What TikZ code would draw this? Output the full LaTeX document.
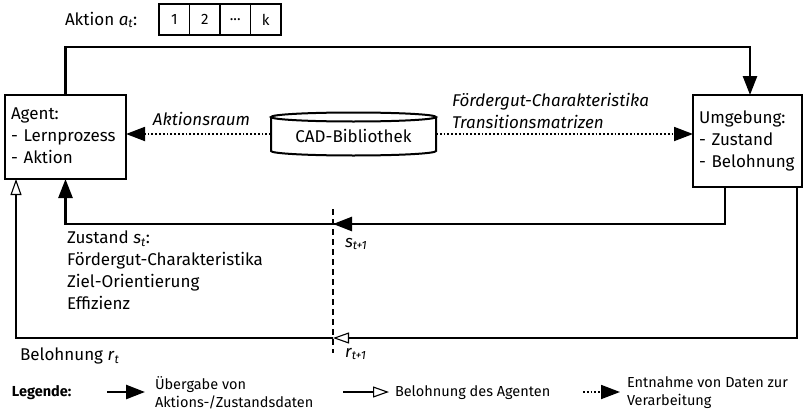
\documentclass[tikz,border=0pt]{standalone}
\usepackage{fontspec}
\setmainfont{Fira Sans}
\usetikzlibrary{arrows.meta,calc}
% italic symbol with italic subscript, set in the text font
\newcommand{\symb}[2]{\textit{#1}\textsubscript{\textit{#2}}}
\begin{document}
\begin{tikzpicture}[x=1pt,y=-1pt,
  every node/.style={inner sep=0pt,outer sep=0pt,font=\fontsize{17}{22}\selectfont},
  box/.style={draw,line width=2pt,rectangle,align=left,anchor=north west,inner xsep=6pt,text width=#1},
  tip/.style={-{Triangle[length=19pt,width=14pt]}},
  flow/.style={line width=2.6pt,tip},
  reward/.style={line width=1.1pt,-{Triangle[open,length=16pt,width=11pt,line width=1.1pt]}},
  source/.style={line width=1.8pt,dash pattern=on 1.8pt off 2pt,tip},
  cut/.style={line width=2pt,dash pattern=on 6pt off 4pt},
  cell/.style={draw,line width=1.6pt,minimum width=30.5pt,minimum height=31pt,anchor=north west,font=\fontsize{15}{17}\selectfont},
  lab/.style={anchor=west,align=left},
  legend/.style={anchor=west,align=left,font=\fontsize{14.5}{18}\selectfont}]
\useasboundingbox (0,0) rectangle (803,415);

% main blocks
\node[box=109pt,minimum width=121pt,minimum height=84pt] (agent) at (5,95)
  {\strut Agent:\\\strut - Lernprozess\\\strut - Aktion};
\node[box=97pt,minimum width=109pt,minimum height=92pt] (umg) at (693,95)
  {\strut Umgebung:\\\strut - Zustand\\\strut - Belohnung};

% CAD library drawn as a cylinder
\draw[line width=2pt,fill=white] (271,117) -- (271,151)
  arc[start angle=180,end angle=0,x radius=82.5,y radius=4.5] -- (436,117);
\draw[line width=2pt] (353.5,117) ellipse[x radius=82.5,y radius=4.5];
\node[minimum width=165pt,minimum height=42pt] (cad) at (353.5,136) {CAD-Bibliothek};

% action vector
\node[anchor=west] (actlabel) at (65,20) {Aktion \symb{a}{t}:};
\node[cell] (c1) at (159,4) {1};
\node[cell] (c2) at (c1.north east) {2};
\node[cell] (c3) at (c2.north east) {...};
\node[cell] (c4) at (c3.north east) {k};

% action: agent -> environment
\draw[flow] (agent.north) |- (750,47) -- (umg.north -| 750,0);

% state: environment -> agent
\coordinate (sout) at (725,187);
\coordinate (scut) at (333,224);
\draw[line width=2.6pt] (sout) |- (scut);
\draw[flow] (scut -| 352,0) -- (scut);
\draw[flow] (scut) -| (agent.south);

% reward: environment -> agent
\coordinate (rout) at (797,187);
\coordinate (rcut) at (333,338);
\draw[line width=1.1pt] (rout) |- (rcut -| 349,0);
\draw[reward] (rcut -| 349,0) -- (rcut);
\draw[reward] (rcut) -| (agent.south west -| 16,0);

% time step boundary
\coordinate (cuttop) at (333,209);
\coordinate (cutbot) at (333,353);
\draw[cut] (cuttop) -- (cutbot);

% data taken from the library
\draw[source] (271,134) -- (agent.east |- 0,134);
\draw[source] (436,134) -- (umg.west |- 0,134);
\node[lab,anchor=east] (aspace) at (250,119) {\itshape Aktionsraum};
\node[lab,anchor=south west] (trans) at (452,129) {\itshape Fördergut-Charakteristika\\\itshape Transitionsmatrizen};

% labels
\node[lab,anchor=north west] (state) at (67,231)
  {Zustand \symb{s}{t}:\\Fördergut-Charakteristika\\Ziel-Orientierung\\Effizienz};
\node[lab] (snext) at (345,244) {\symb{s}{t+1}};
\node[lab] (rlab) at (20,356) {Belohnung \symb{r}{t}};
\node[lab] (rnext) at (345,354) {\symb{r}{t+1}};

% legend
\node[legend,font=\fontsize{14.5}{18}\selectfont\bfseries] (leg) at (12,393) {Legende:};
\coordinate (l1a) at (107,392); \coordinate (l1b) at (145,392);
\draw[flow] (l1a) -- (l1b);
\node[legend] (l1) at (155,393) {Übergabe von\\Aktions-/Zustandsdaten};
\coordinate (l2a) at (343,392); \coordinate (l2b) at (389,392);
\draw[reward] (l2a) -- (l2b);
\node[legend] (l2) at (395,393) {Belohnung des Agenten};
\coordinate (l3a) at (583,392); \coordinate (l3b) at (620,392);
\draw[source] (l3a) -- (l3b);
\node[legend] (l3) at (627,393) {Entnahme von Daten zur\\Verarbeitung};
\end{tikzpicture}
\end{document}
